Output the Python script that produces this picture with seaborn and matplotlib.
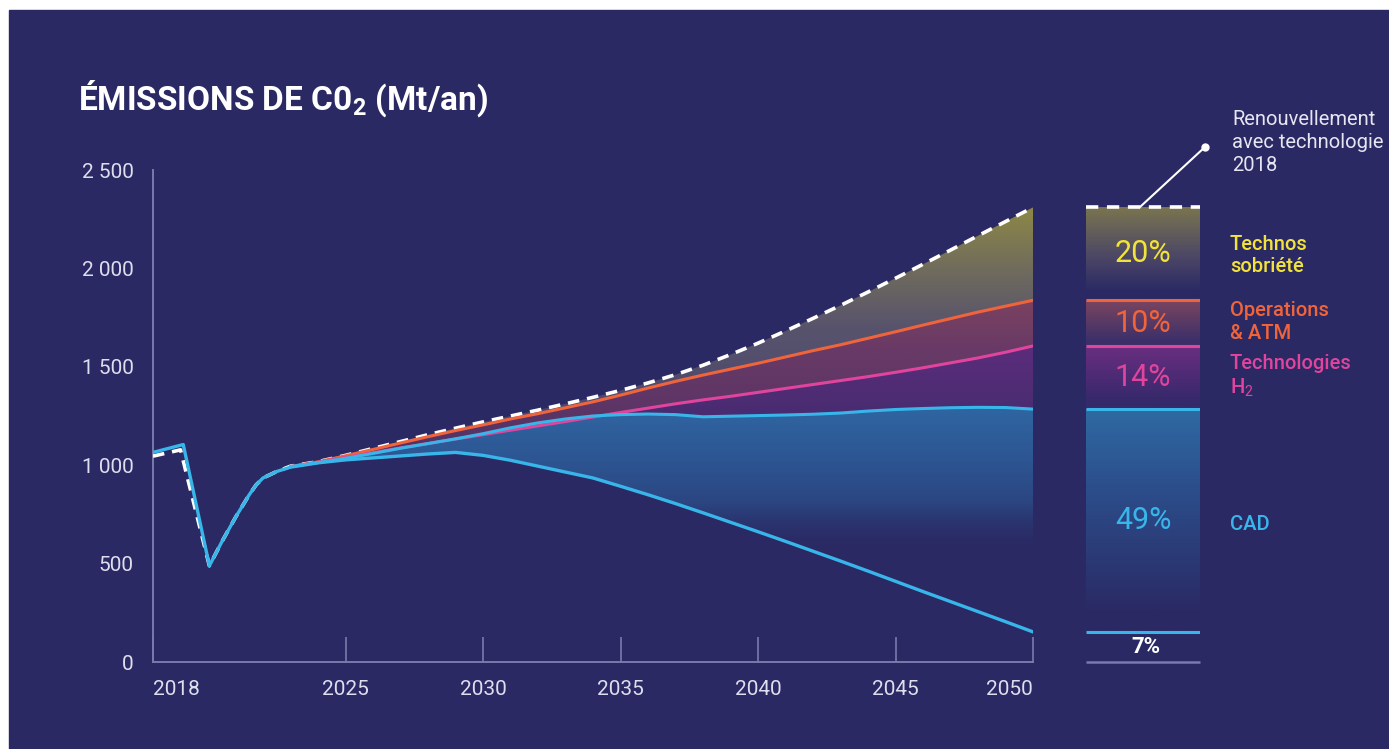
import numpy as np
import pandas as pd
import matplotlib
matplotlib.use("Agg")
import matplotlib.pyplot as plt
import seaborn as sns
from matplotlib.patches import Rectangle
from matplotlib.colors import to_rgba

# ---------------------------------------------------------------- data
# Shared history (Mt CO2 / year)
hist_years = [2018, 2019.1, 2020.05, 2020.5, 2021, 2021.5, 2021.75, 2022, 2022.5]
hist_cad = [1065, 1105, 489, 610, 735, 850, 900, 935, 968]
hist_ref_years = [2018, 2019.0, 2020.05, 2020.5, 2021, 2021.5, 2021.75, 2022, 2022.5]
hist_ref = [1046, 1078, 489, 610, 735, 850, 900, 935, 968]

# Scenario years
years = list(range(2023, 2051))

# Fleet renewal with 2018 technology (dashed)
renouvellement = [995, 1018, 1050, 1085, 1120, 1155, 1188, 1220, 1250, 1280,
                  1312, 1345, 1380, 1418, 1460, 1508, 1562, 1620, 1682, 1746,
                  1812, 1880, 1950, 2021, 2093, 2166, 2238, 2310]
# After "Technos sobriété"
operations_atm = [993, 1017, 1048, 1080, 1113, 1145, 1176, 1205, 1235, 1262,
                  1292, 1322, 1356, 1392, 1426, 1458, 1488, 1518, 1550, 1582,
                  1612, 1645, 1678, 1712, 1745, 1778, 1808, 1838]
# After "Operations & ATM"
technologies_h2 = [993, 1015, 1040, 1063, 1088, 1110, 1133, 1155, 1178, 1200,
                   1222, 1245, 1268, 1290, 1312, 1332, 1350, 1370, 1390, 1410,
                   1430, 1450, 1472, 1495, 1520, 1545, 1574, 1606]
# After "Technologies H2"
cad_haut = [993, 1013, 1035, 1060, 1086, 1110, 1134, 1160, 1190, 1215,
            1235, 1250, 1257, 1260, 1257, 1246, 1249, 1252, 1255, 1259,
            1265, 1275, 1283, 1288, 1292, 1294, 1293, 1285]
# Residual emissions after CAD
cad_bas = [990, 1012, 1027, 1037, 1047, 1057, 1065, 1050, 1025, 995,
           965, 935, 893, 850, 805, 758, 710, 662, 613, 563,
           513, 462, 410, 358, 307, 256, 205, 153]

y_ticks = [0, 500, 1000, 1500, 2000, 2500]
y_labels = ["0", "500", "1 000", "1 500", "2 000", "2 500"]
x_ticks = [2018, 2025, 2030, 2035, 2040, 2045, 2050]
x_labels = ["2018", "2025", "2030", "2035", "2040", "2045", "2050"]

levers = ["Technos\nsobriété", "Operations\n& ATM", "Technologies\nH$_2$", "CAD"]

# ---------------------------------------------------------------- style
BG = "#2a2964"
AXIS = "#7c7aaa"
TXT = "#dedeef"
C_BLUE = "#38b6ea"
C_MAG = "#e0449c"
C_ORA = "#f0643c"
C_YEL = "#f2e33a"

sns.set_style("dark", rc={"axes.facecolor": BG, "figure.facecolor": "white"})
plt.rcParams["font.family"] = ["Roboto", "DejaVu Sans"]
plt.rcParams["mathtext.fontset"] = "custom"
plt.rcParams["mathtext.rm"] = "Roboto"
plt.rcParams["mathtext.bf"] = "Roboto:bold"

W, H = 1389, 749
fig = plt.figure(figsize=(W / 100, H / 100), dpi=100, facecolor="white")
fig.patches.append(Rectangle((9 / W, 0), 1, 1 - 10 / H, transform=fig.transFigure,
                             color=BG, zorder=-10))

ax = fig.add_axes([153 / W, 87 / H, 880 / W, 492 / H])
ax.set_facecolor(BG)
ax.grid(False)

yrs = np.array(years, dtype=float)
ref = np.array(renouvellement, float)
ora = np.array(operations_atm, float)
mag = np.array(technologies_h2, float)
chi = np.array(cad_haut, float)
clo = np.array(cad_bas, float)


def gradient_band(axis, x, lo, hi, stops, x0, x1, z=1):
    """Fill between lo and hi with a vertical colour gradient given by
    (value, rgba) stops, clipped to the band."""
    poly = axis.fill_between(x, lo, hi, facecolor="none", edgecolor="none", lw=0)
    vals = np.linspace(0, 2500, 600)
    sv = np.array([s[0] for s in stops])
    order = np.argsort(sv)
    sv = sv[order]
    cols = np.array([s[1] for s in stops])[order]
    img = np.zeros((len(vals), 1, 4))
    for k in range(4):
        img[:, 0, k] = np.interp(vals, sv, cols[:, k])
    im = axis.imshow(img, extent=[x0, x1, 0, 2500], origin="lower",
                     aspect="auto", interpolation="bilinear", zorder=z)
    im.set_clip_path(poly.get_paths()[0], transform=axis.transData)
    return im


def rgba(c, a=1.0):
    r, g, b, _ = to_rgba(c)
    return (r, g, b, a)


# gradient bands between scenario curves
gradient_band(ax, yrs, ora, ref,
              [(2320, rgba("#8e8946")), (2000, rgba("#706c5c")),
               (1700, rgba("#58536c")), (1100, rgba("#48436e"))], 2023, 2050)
gradient_band(ax, yrs, mag, ora,
              [(1850, rgba("#7c4260")), (1600, rgba("#693a66")),
               (1100, rgba("#553266"))], 2023, 2050)
gradient_band(ax, yrs, np.minimum(chi, mag), mag,
              [(1620, rgba("#5c2d7c")), (1300, rgba("#4b2c72")),
               (1000, rgba("#3c2b6c"))], 2023, 2050)
gradient_band(ax, yrs, clo, np.minimum(chi, mag),
              [(1300, rgba("#2f66a2")), (1050, rgba("#2d5794")),
               (800, rgba("#2b4580")), (540, rgba(BG, 0.0)), (0, rgba(BG, 0.0))],
              2023, 2050)

# ---------------------------------------------------------------- lines
ref_df = pd.DataFrame({"année": hist_ref_years + years,
                       "Mt": hist_ref + renouvellement})
sns.lineplot(data=ref_df, x="année", y="Mt", ax=ax, color="white", lw=2.6,
             zorder=4)
ax.lines[-1].set_dashes([3.2, 2.2])

for vals, col in [(operations_atm, C_ORA), (technologies_h2, C_MAG),
                  (cad_haut, C_BLUE)]:
    sns.lineplot(x=years, y=vals, ax=ax, color=col, lw=2.2, zorder=5)

cad_df = pd.DataFrame({"année": hist_years + years, "Mt": hist_cad + cad_bas})
sns.lineplot(data=cad_df, x="année", y="Mt", ax=ax, color=C_BLUE, lw=2.4,
             zorder=6)

ax.set_xlim(2018, 2050)
ax.set_ylim(0, 2500)
ax.set_xlabel("")
ax.set_ylabel("")

for s in ["top", "right"]:
    ax.spines[s].set_visible(False)
for s in ["left", "bottom"]:
    ax.spines[s].set_visible(True)
    ax.spines[s].set_color(AXIS)
    ax.spines[s].set_linewidth(1.4)

ax.set_yticks(y_ticks)
ax.set_yticklabels(y_labels, fontsize=15, color=TXT, fontweight="normal")
ax.set_xticks(x_ticks)
ax.set_xticklabels(x_labels, fontsize=15, color=TXT, fontweight="normal")
ax.tick_params(axis="y", left=False, length=0, pad=14)
ax.tick_params(axis="x", bottom=True, direction="in", length=18, width=1.2,
               color=AXIS, pad=13)
xl = ax.get_xticklabels()
xl[0].set_ha("left")
xl[-1].set_ha("right")

# ---------------------------------------------------------------- 2050 bar
bax = fig.add_axes([1086 / W, 87 / H, 114 / W, 492 / H])
bax.set_xlim(0, 1)
bax.set_ylim(0, 2500)
bax.axis("off")

top, o50, m50, c50, r50 = ref[-1], ora[-1], mag[-1], chi[-1], clo[-1]
segments = [
    (o50, top, [(top, rgba("#7a7450")), (top - 0.55 * (top - o50), rgba("#4a4566")),
                (o50 + 0.1 * (top - o50), rgba(BG, 1.0))]),
    (m50, o50, [(o50, rgba("#7a4560")), (m50 + 0.1 * (o50 - m50), rgba("#3b2f6a"))]),
    (c50, m50, [(m50, rgba("#6a2e80")), (c50 + 0.1 * (m50 - c50), rgba("#34296a"))]),
    (r50, c50, [(c50, rgba("#2f6aa3")), (900, rgba("#2c4f8c")),
                (r50 + 0.08 * (c50 - r50), rgba(BG, 1.0))]),
]
for lo, hi, stops in segments:
    gradient_band(bax, [0, 1], [lo, lo], [hi, hi],
                  [(2600, stops[0][1])] + stops + [(-100, stops[-1][1])], 0, 1)

bax.hlines([o50], 0, 1, color=C_ORA, lw=2.2, zorder=5)
bax.hlines([m50], 0, 1, color=C_MAG, lw=2.2, zorder=5)
bax.hlines([c50, r50], 0, 1, color=C_BLUE, lw=2.2, zorder=5)
bax.hlines([0], 0, 1, color=AXIS, lw=1.8, zorder=5, clip_on=False)
dl = bax.plot([0, 1], [top, top], color="white", lw=2.6, zorder=6, clip_on=False)[0]
dl.set_dashes([3.4, 2.4])

# shares of the 2050 baseline
shares = [(top - o50) / top, (o50 - m50) / top, (m50 - c50) / top,
          (c50 - r50) / top, r50 / top]
mids = [(top + o50) / 2, (o50 + m50) / 2, (m50 + c50) / 2, (c50 + r50) / 2, r50 / 2]
pcols = [C_YEL, C_ORA, C_MAG, C_BLUE, "white"]
for i, (sh, md, pc) in enumerate(zip(shares, mids, pcols)):
    last = i == len(shares) - 1
    bax.text(0.5 if not last else 0.53, md, f"{round(sh * 100):.0f}%",
             ha="center", va="center", color=pc,
             fontsize=16 if last else 22,
             fontweight="bold" if last else "normal", zorder=7)

# callout for the baseline scenario
end = (1205 / W, 1 - 147 / H)
bax.annotate("", xy=(0.47, top), xycoords="data", xytext=end,
             textcoords="figure fraction",
             arrowprops=dict(arrowstyle="-", color="white", lw=1.5,
                             shrinkA=0, shrinkB=0))
fig.add_artist(plt.Line2D([end[0]], [end[1]], marker="o", ms=5, color="white",
                          transform=fig.transFigure))
fig.text(1232 / W, 1 - 142.5 / H, "Renouvellement\navec technologie\n2018",
         color="#e6e6f2", fontsize=14.5, fontweight="normal", va="center",
         ha="left", linespacing=1.25)

# lever labels
lab_y = [255.5, 322, 376.5, 524]
lab_c = [C_YEL, C_ORA, C_MAG, C_BLUE]
for txt, yy, cc in zip(levers, lab_y, lab_c):
    fig.text(1230 / W, 1 - yy / H, txt, color=cc, fontsize=14.5,
             fontweight="medium", va="center", ha="left", linespacing=1.25)

# title
fig.text(78 / W, 1 - 110 / H, r"ÉMISSIONS DE C0$_\mathbf{2}$ (Mt/an)",
         color="white", fontsize=24, fontweight="bold", va="baseline",
         ha="left")

fig.savefig("out.png", dpi=100, facecolor=fig.get_facecolor())
